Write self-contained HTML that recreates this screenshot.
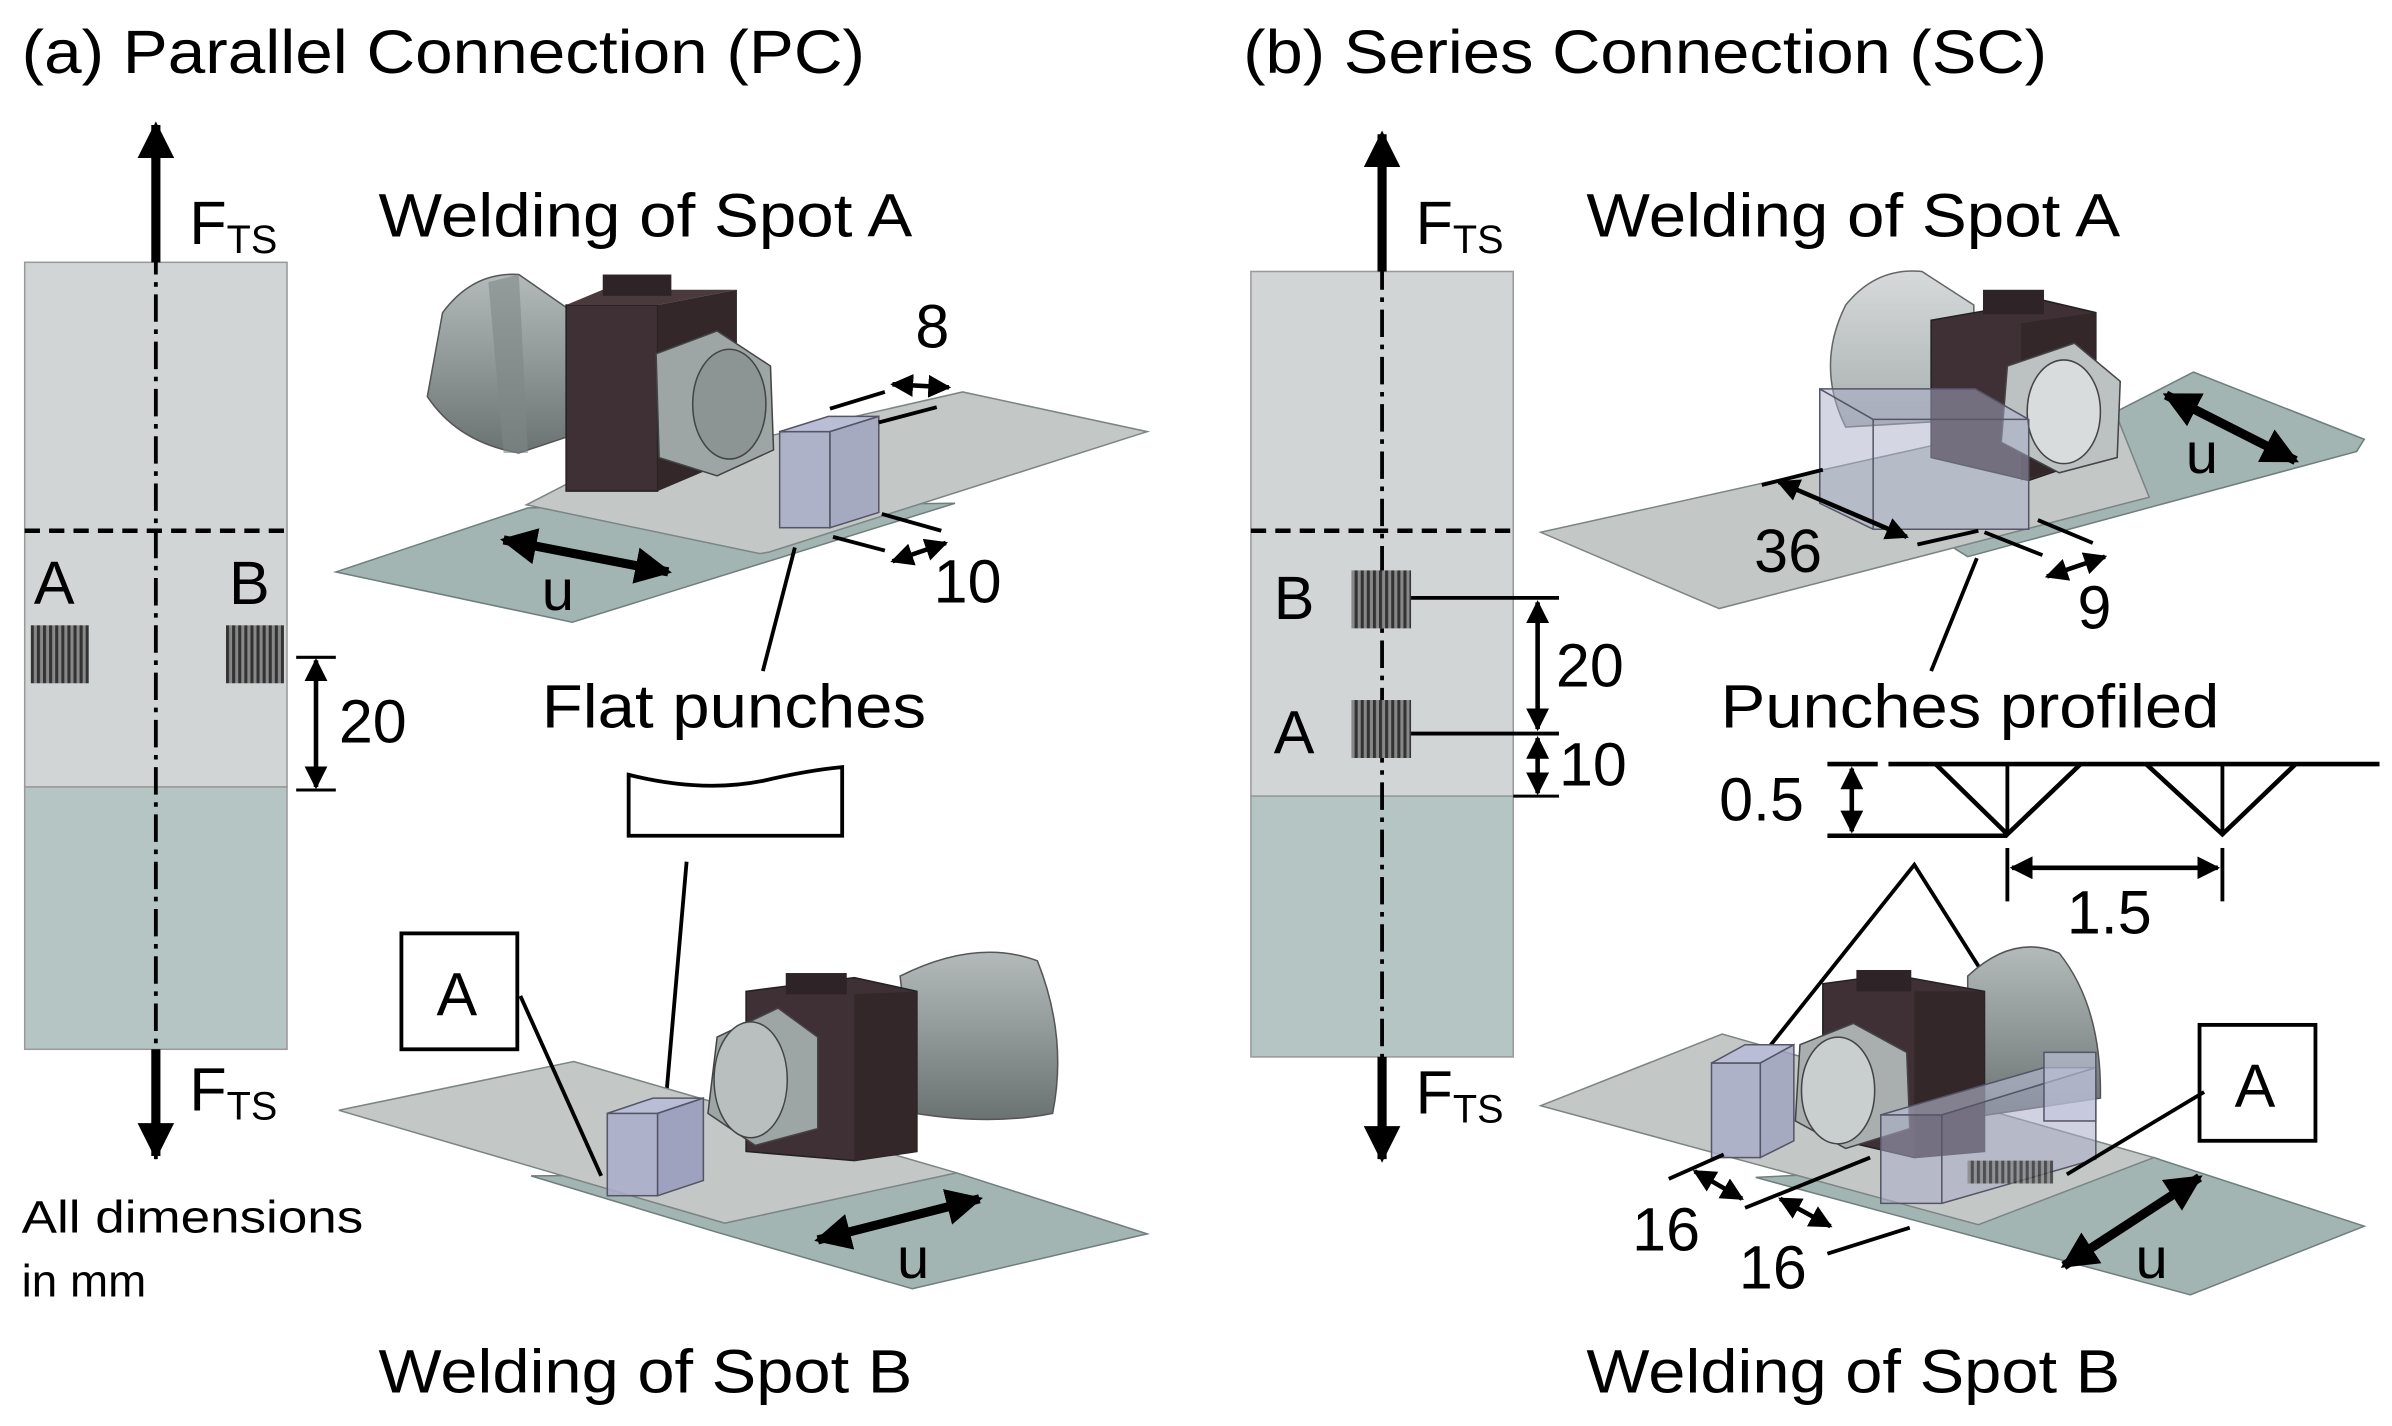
<!DOCTYPE html>
<html><head><meta charset="utf-8"><style>
html,body{margin:0;padding:0;background:#fff}
svg{display:block}
text{font-family:"Liberation Sans",Arial,sans-serif;fill:#000}
</style></head><body>
<svg width="2392" height="1426" viewBox="0 0 1568 935" xmlns="http://www.w3.org/2000/svg">
<defs>
<marker id="ah" viewBox="0 0 10 10" refX="9" refY="5" markerWidth="4" markerHeight="4" orient="auto-start-reverse"><path d="M0,0L10,5L0,10z" fill="#000"/></marker>
<marker id="as" viewBox="0 0 10 10" refX="9" refY="5" markerWidth="5" markerHeight="5" orient="auto-start-reverse"><path d="M0,0L10,5L0,10z" fill="#000"/></marker>
<pattern id="hat" width="4" height="4" patternUnits="userSpaceOnUse"><rect width="4" height="4" fill="#888"/><rect width="2" height="4" fill="#333"/></pattern>
<linearGradient id="cyl" x1="0" y1="0" x2="0" y2="1"><stop offset="0" stop-color="#b4baba"/><stop offset="0.5" stop-color="#8f9797"/><stop offset="1" stop-color="#6a7272"/></linearGradient>
<linearGradient id="cyl2" x1="0" y1="0" x2="0" y2="1"><stop offset="0" stop-color="#d6dada"/><stop offset="1" stop-color="#a8aeae"/></linearGradient>
</defs>

<text x="14" y="48" font-size="40" textLength="553" lengthAdjust="spacingAndGlyphs">(a) Parallel Connection (PC)</text>
<text x="815" y="48" font-size="40" textLength="527" lengthAdjust="spacingAndGlyphs">(b) Series Connection (SC)</text>

<!-- LEFT STRIP -->
<rect x="16" y="172" width="172" height="344" fill="#d1d5d5" stroke="#999"/>
<rect x="16" y="516" width="172" height="172" fill="#b5c5c3" stroke="#999"/>
<line x1="16" y1="348" x2="188" y2="348" stroke="#000" stroke-width="3" stroke-dasharray="10,6"/>
<line x1="102" y1="100" x2="102" y2="760" stroke="#000" stroke-width="2.5" stroke-dasharray="18,5,3,5"/>
<line x1="102" y1="172" x2="102" y2="82" stroke="#000" stroke-width="6" marker-end="url(#ah)"/>
<line x1="102" y1="688" x2="102" y2="758" stroke="#000" stroke-width="6" marker-end="url(#ah)"/>
<text x="124" y="160" font-size="40">F<tspan font-size="26" dy="6">TS</tspan></text>
<text x="124" y="728" font-size="40">F<tspan font-size="26" dy="6">TS</tspan></text>
<text x="22" y="396" font-size="40">A</text>
<text x="150" y="396" font-size="40">B</text>
<rect x="20" y="410" width="38" height="38" fill="url(#hat)"/>
<rect x="148" y="410" width="38" height="38" fill="url(#hat)"/>
<line x1="194" y1="431" x2="220" y2="431" stroke="#000" stroke-width="2"/>
<line x1="194" y1="518" x2="220" y2="518" stroke="#000" stroke-width="2"/>
<line x1="207" y1="433" x2="207" y2="516" stroke="#000" stroke-width="3" marker-start="url(#as)" marker-end="url(#as)"/>
<text x="222" y="487" font-size="40">20</text>
<text x="14" y="808" font-size="30" textLength="224" lengthAdjust="spacingAndGlyphs">All dimensions</text>
<text x="14" y="850" font-size="30">in mm</text>

<!-- PC top assembly -->
<text x="248" y="155" font-size="40" textLength="350" lengthAdjust="spacingAndGlyphs">Welding of Spot A</text>
<polygon points="220,375 346,333 626,330 375,408" fill="#a3b5b3" stroke="#6f7f7d"/>
<polygon points="345,331 376,315 631,257 752,283 504,362 498,363" fill="#c3c8c7" stroke="#7d8584"/>
<path d="M290,205 Q310,178 340,180 L376,205 L376,285 L340,297 Q300,290 280,260 Z" fill="url(#cyl)" stroke="#555"/>
<path d="M320,185 L340,180 L346,297 L330,297 Z" fill="#7f8787" opacity="0.6"/>
<rect x="371" y="200" width="60" height="122" fill="#3e3034" stroke="#222"/>
<polygon points="371,200 395,190 483,190 431,200" fill="#4a3a3e"/>
<polygon points="431,200 483,190 483,300 431,322" fill="#33272a"/>
<rect x="395" y="180" width="45" height="14" fill="#2e2326"/>
<polygon points="430,232 470,217 505,240 507,295 470,312 432,300" fill="#9ea5a5" stroke="#444"/>
<ellipse cx="478" cy="265" rx="24" ry="36" fill="#8d9494" stroke="#444"/>
<rect x="511" y="283" width="33" height="63" fill="#a9adc9" fill-opacity="0.8" stroke="#556"/>
<polygon points="511,283 544,283 576,273 543,273" fill="#b9bdd6" stroke="#556"/>
<polygon points="544,283 576,273 576,336 544,346" fill="#9ea2bf" fill-opacity="0.8" stroke="#556"/>
<line x1="544" y1="268" x2="580" y2="257" stroke="#000" stroke-width="2.5"/>
<line x1="576" y1="277" x2="614" y2="267" stroke="#000" stroke-width="2.5"/>
<line x1="585" y1="252" x2="622" y2="254" stroke="#000" stroke-width="3" marker-start="url(#as)" marker-end="url(#as)"/>
<text x="600" y="228" font-size="40">8</text>
<line x1="578" y1="337" x2="617" y2="348" stroke="#000" stroke-width="2.5"/>
<line x1="546" y1="352" x2="580" y2="361" stroke="#000" stroke-width="2.5"/>
<line x1="585" y1="368" x2="620" y2="356" stroke="#000" stroke-width="3" marker-start="url(#as)" marker-end="url(#as)"/>
<text x="612" y="395" font-size="40">10</text>
<line x1="330" y1="354" x2="438" y2="375" stroke="#000" stroke-width="6" marker-start="url(#ah)" marker-end="url(#ah)"/>
<text x="355" y="400" font-size="38">u</text>
<line x1="521" y1="359" x2="500" y2="440" stroke="#000" stroke-width="2.5"/>
<text x="355" y="477" font-size="40" textLength="252" lengthAdjust="spacingAndGlyphs">Flat punches</text>
<path d="M412,508 Q460,520 500,512 Q530,505 552,503 L552,548 L412,548 Z" fill="#fff" stroke="#000" stroke-width="2.5"/>
<line x1="450" y1="565" x2="436" y2="726" stroke="#000" stroke-width="2.5"/>

<!-- PC bottom assembly -->
<polygon points="348,771 627,769 752,809 598,845 470,808" fill="#a3b5b3" stroke="#6f7f7d"/>
<polygon points="222,728 376,696 627,769 475,802" fill="#c3c8c7" stroke="#7d8584"/>
<path d="M590,640 Q640,615 680,630 Q700,680 690,730 Q650,738 600,730 Z" fill="url(#cyl)" stroke="#555"/>
<polygon points="489,650 560,641 601,650 601,755 560,761 489,755" fill="#3e3034" stroke="#222"/>
<polygon points="560,652 601,650 601,755 560,761" fill="#33272a"/>
<rect x="515" y="638" width="40" height="14" fill="#2e2326"/>
<polygon points="470,680 510,661 536,680 536,740 495,751 464,730" fill="#9ea5a5" stroke="#444"/>
<ellipse cx="492" cy="708" rx="24" ry="38" fill="#b9bfbf" stroke="#444"/>
<rect x="398" y="730" width="33" height="54" fill="#a9adc9" fill-opacity="0.85" stroke="#556"/>
<polygon points="398,730 431,730 461,720 428,720" fill="#b9bdd6" stroke="#556"/>
<polygon points="431,730 461,720 461,774 431,784" fill="#9ea2bf" stroke="#556"/>
<rect x="263" y="612" width="76" height="76" fill="#fff" stroke="#000" stroke-width="2.5"/>
<text x="286" y="666" font-size="40">A</text>
<line x1="341" y1="653" x2="394" y2="771" stroke="#000" stroke-width="2.5"/>
<line x1="536" y1="813" x2="642" y2="786" stroke="#000" stroke-width="6" marker-start="url(#ah)" marker-end="url(#ah)"/>
<text x="588" y="838" font-size="38">u</text>
<text x="248" y="913" font-size="40" textLength="350" lengthAdjust="spacingAndGlyphs">Welding of Spot B</text>

<!-- RIGHT STRIP -->
<rect x="820" y="178" width="172" height="344" fill="#d1d5d5" stroke="#999"/>
<rect x="820" y="522" width="172" height="171" fill="#b5c5c3" stroke="#999"/>
<line x1="820" y1="348" x2="992" y2="348" stroke="#000" stroke-width="3" stroke-dasharray="10,6"/>
<line x1="906" y1="110" x2="906" y2="760" stroke="#000" stroke-width="2.5" stroke-dasharray="18,5,3,5"/>
<line x1="906" y1="178" x2="906" y2="88" stroke="#000" stroke-width="6" marker-end="url(#ah)"/>
<line x1="906" y1="693" x2="906" y2="760" stroke="#000" stroke-width="6" marker-end="url(#ah)"/>
<text x="928" y="160" font-size="40">F<tspan font-size="26" dy="6">TS</tspan></text>
<text x="928" y="730" font-size="40">F<tspan font-size="26" dy="6">TS</tspan></text>
<text x="835" y="406" font-size="40">B</text>
<text x="835" y="494" font-size="40">A</text>
<rect x="886" y="374" width="39" height="38" fill="url(#hat)"/>
<rect x="886" y="459" width="39" height="38" fill="url(#hat)"/>
<line x1="925" y1="392" x2="1022" y2="392" stroke="#000" stroke-width="2.5"/>
<line x1="925" y1="481" x2="1022" y2="481" stroke="#000" stroke-width="2.5"/>
<line x1="992" y1="522" x2="1022" y2="522" stroke="#000" stroke-width="2"/>
<line x1="1008" y1="395" x2="1008" y2="478" stroke="#000" stroke-width="3" marker-start="url(#as)" marker-end="url(#as)"/>
<line x1="1008" y1="484" x2="1008" y2="520" stroke="#000" stroke-width="3" marker-start="url(#as)" marker-end="url(#as)"/>
<text x="1020" y="450" font-size="40">20</text>
<text x="1022" y="515" font-size="40">10</text>

<!-- SC top assembly -->
<text x="1040" y="155" font-size="40" textLength="350" lengthAdjust="spacingAndGlyphs">Welding of Spot A</text>
<polygon points="1250,340 1438,244 1550,288 1545,296 1290,365" fill="#a3b5b3" stroke="#6f7f7d"/>
<polygon points="1010,349 1385,266 1409,326 1127,399" fill="#c3c8c7" stroke="#7d8584"/>
<path d="M1210,200 Q1230,175 1260,178 L1294,200 L1294,275 L1210,280 Q1190,240 1210,200 Z" fill="url(#cyl2)" stroke="#666"/>
<polygon points="1266,210 1340,197 1374,205 1374,300 1330,315 1266,300" fill="#3e3034" stroke="#222"/>
<polygon points="1325,212 1374,205 1374,300 1325,315" fill="#33272a"/>
<rect x="1300" y="190" width="40" height="16" fill="#2e2326"/>
<polygon points="1316,240 1360,225 1390,250 1388,300 1350,310 1312,290" fill="#bcc2c2" stroke="#444"/>
<ellipse cx="1353" cy="270" rx="24" ry="34" fill="#d8dcdc" stroke="#444"/>
<polygon points="1193,255 1295,255 1330,275 1330,347 1228,347 1193,330" fill="#a9adc9" fill-opacity="0.5" stroke="#556"/>
<line x1="1228" y1="275" x2="1330" y2="275" stroke="#556"/>
<line x1="1228" y1="275" x2="1228" y2="347" stroke="#556"/>
<line x1="1193" y1="255" x2="1228" y2="275" stroke="#556"/>
<line x1="1155" y1="318" x2="1195" y2="308" stroke="#000" stroke-width="2.5"/>
<line x1="1257" y1="357" x2="1297" y2="348" stroke="#000" stroke-width="2.5"/>
<line x1="1166" y1="316" x2="1250" y2="352" stroke="#000" stroke-width="3" marker-start="url(#as)" marker-end="url(#as)"/>
<text x="1150" y="375" font-size="40">36</text>
<line x1="1301" y1="349" x2="1339" y2="364" stroke="#000" stroke-width="2.5"/>
<line x1="1336" y1="341" x2="1372" y2="356" stroke="#000" stroke-width="2.5"/>
<line x1="1342" y1="378" x2="1380" y2="365" stroke="#000" stroke-width="3" marker-start="url(#as)" marker-end="url(#as)"/>
<text x="1362" y="412" font-size="40">9</text>
<line x1="1420" y1="259" x2="1505" y2="302" stroke="#000" stroke-width="6" marker-start="url(#ah)" marker-end="url(#ah)"/>
<text x="1433" y="310" font-size="38">u</text>
<line x1="1296" y1="366" x2="1266" y2="440" stroke="#000" stroke-width="2.5"/>
<text x="1128" y="477" font-size="40" textLength="327" lengthAdjust="spacingAndGlyphs">Punches profiled</text>
<line x1="1238" y1="501" x2="1560" y2="501" stroke="#000" stroke-width="3"/>
<line x1="1198" y1="501" x2="1231" y2="501" stroke="#000" stroke-width="3"/>
<polyline points="1269,501 1316,547 1364,501" fill="none" stroke="#000" stroke-width="3"/>
<polyline points="1407,501 1457,547 1505,501" fill="none" stroke="#000" stroke-width="3"/>
<line x1="1316" y1="501" x2="1316" y2="547" stroke="#000" stroke-width="2.5"/>
<line x1="1457" y1="501" x2="1457" y2="547" stroke="#000" stroke-width="2.5"/>
<line x1="1198" y1="548" x2="1316" y2="548" stroke="#000" stroke-width="3"/>
<line x1="1214" y1="504" x2="1214" y2="545" stroke="#000" stroke-width="3" marker-start="url(#as)" marker-end="url(#as)"/>
<text x="1127" y="538" font-size="40">0.5</text>
<line x1="1316" y1="556" x2="1316" y2="591" stroke="#000" stroke-width="2.5"/>
<line x1="1457" y1="556" x2="1457" y2="591" stroke="#000" stroke-width="2.5"/>
<line x1="1319" y1="569" x2="1454" y2="569" stroke="#000" stroke-width="3" marker-start="url(#as)" marker-end="url(#as)"/>
<text x="1355" y="612" font-size="40">1.5</text>
<polyline points="1153,695 1255,567 1353,722" fill="none" stroke="#000" stroke-width="2.5"/>

<!-- SC bottom assembly -->
<polygon points="1151,772 1412,759 1550,804 1436,849" fill="#a3b5b3" stroke="#6f7f7d"/>
<polygon points="1010,725 1129,678 1412,759 1297,803" fill="#c3c8c7" stroke="#7d8584"/>
<path d="M1290,640 Q1320,612 1350,625 Q1378,660 1377,720 L1290,733 Z" fill="url(#cyl)" stroke="#555"/>
<polygon points="1195,645 1240,639 1301,650 1301,755 1255,759 1195,745" fill="#3e3034" stroke="#222"/>
<polygon points="1255,650 1301,650 1301,755 1255,759" fill="#33272a"/>
<rect x="1217" y="636" width="36" height="14" fill="#2e2326"/>
<polygon points="1180,685 1215,671 1250,690 1252,740 1210,753 1177,735" fill="#a9afaf" stroke="#444"/>
<ellipse cx="1205" cy="715" rx="24" ry="35" fill="#c9cece" stroke="#444"/>
<rect x="1122" y="697" width="32" height="62" fill="#a9adc9" fill-opacity="0.8" stroke="#556"/>
<polygon points="1122,697 1154,697 1176,685 1144,685" fill="#b9bdd6" stroke="#556"/>
<polygon points="1154,697 1176,685 1176,748 1154,759" fill="#9ea2bf" fill-opacity="0.8" stroke="#556"/>
<polygon points="1233,731 1273,731 1374,700 1374,760 1273,789 1233,789" fill="#a9adc9" fill-opacity="0.55" stroke="#556"/>
<polygon points="1233,731 1340,700 1374,700 1273,731" fill="#b9bdd6" fill-opacity="0.6" stroke="#556"/>
<rect x="1340" y="690" width="34" height="45" fill="#c2c5dc" fill-opacity="0.6" stroke="#556"/>
<line x1="1273" y1="731" x2="1273" y2="789" stroke="#556"/>
<rect x="1290" y="761" width="56" height="15" fill="url(#hat)" opacity="0.8"/>
<rect x="1442" y="672" width="76" height="76" fill="#fff" stroke="#000" stroke-width="2.5"/>
<text x="1465" y="726" font-size="40">A</text>
<line x1="1445" y1="716" x2="1355" y2="770" stroke="#000" stroke-width="2.5"/>
<line x1="1353" y1="830" x2="1442" y2="772" stroke="#000" stroke-width="6" marker-start="url(#ah)" marker-end="url(#ah)"/>
<text x="1400" y="838" font-size="38">u</text>
<line x1="1094" y1="773" x2="1130" y2="757" stroke="#000" stroke-width="2.5"/>
<line x1="1144" y1="792" x2="1226" y2="759" stroke="#000" stroke-width="2.5"/>
<line x1="1198" y1="822" x2="1252" y2="805" stroke="#000" stroke-width="2.5"/>
<line x1="1111" y1="768" x2="1142" y2="786" stroke="#000" stroke-width="3" marker-start="url(#as)" marker-end="url(#as)"/>
<line x1="1167" y1="786" x2="1200" y2="804" stroke="#000" stroke-width="3" marker-start="url(#as)" marker-end="url(#as)"/>
<text x="1070" y="820" font-size="40">16</text>
<text x="1140" y="845" font-size="40">16</text>
<text x="1040" y="913" font-size="40" textLength="350" lengthAdjust="spacingAndGlyphs">Welding of Spot B</text>
</svg>
</body></html>
